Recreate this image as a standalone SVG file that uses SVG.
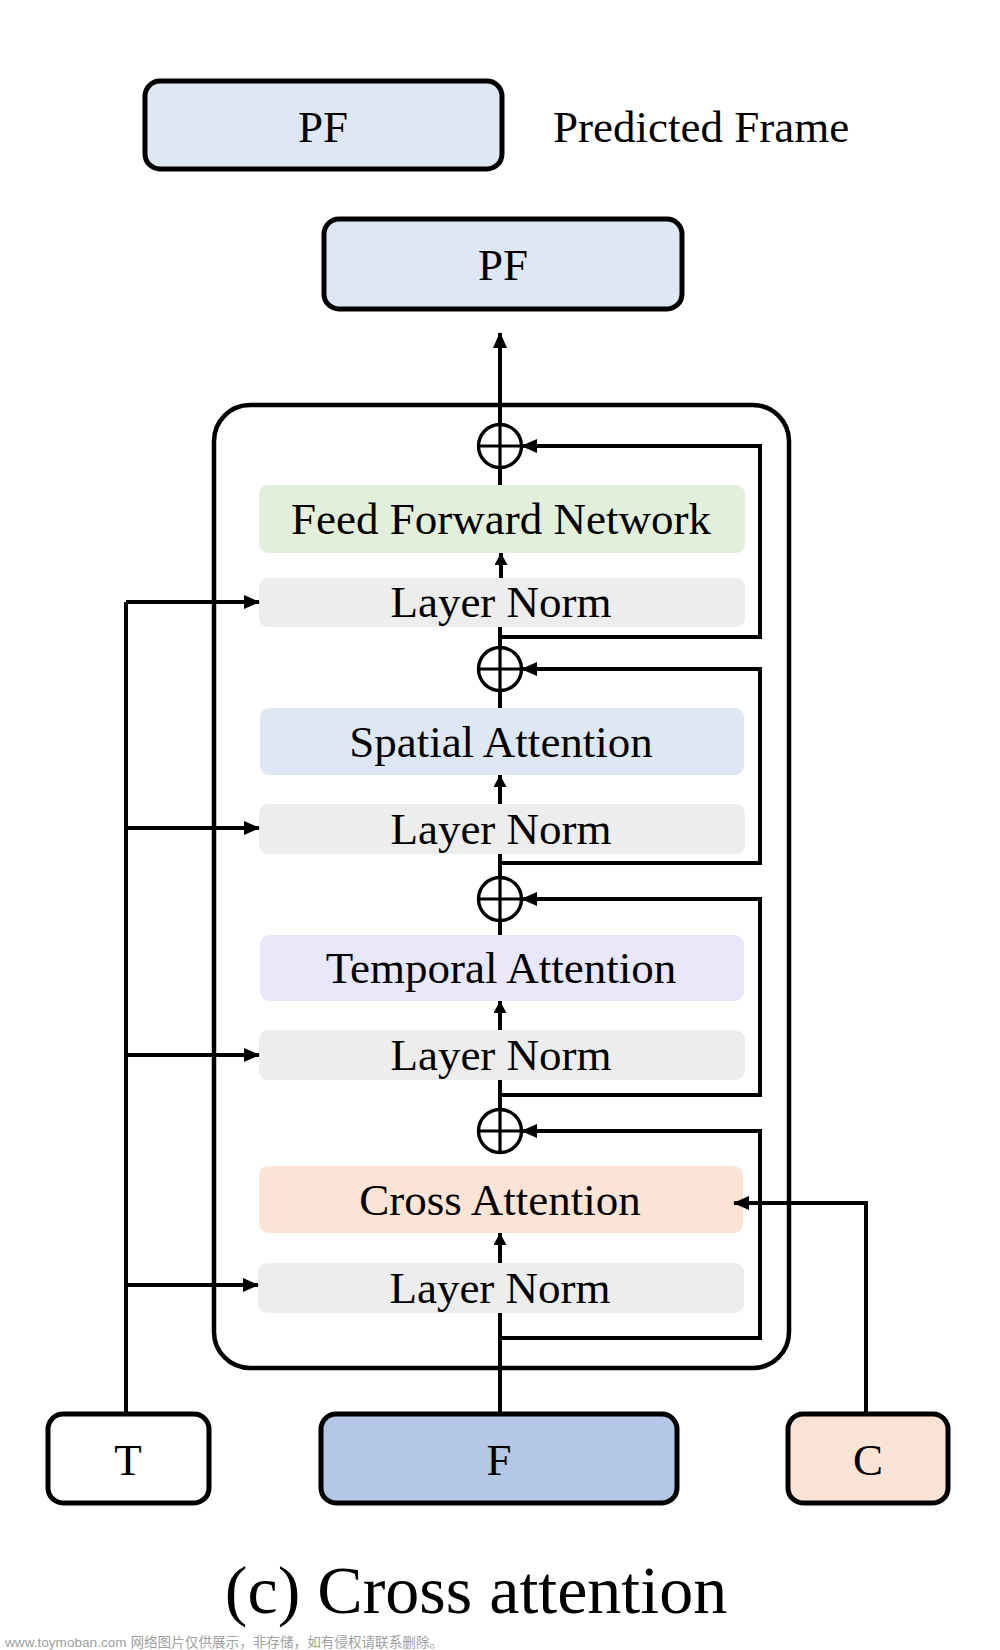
<svg xmlns="http://www.w3.org/2000/svg" width="1000" height="1650" viewBox="0 0 1000 1650">
<style>
.t{font-family:"Liberation Serif","Times New Roman",serif;font-size:45px;fill:#000;text-anchor:middle}
.box{stroke:#000;stroke-width:5}
.ln{fill:none;stroke:#000;stroke-width:4}
.plus{fill:#fff;stroke:#000;stroke-width:3.4}
</style>
<defs>
<marker id="ah" markerUnits="userSpaceOnUse" markerWidth="16" markerHeight="14" refX="15" refY="7" orient="auto">
<path d="M0,0 L16,7 L0,14 z" fill="#000"/>
</marker>
<marker id="as" markerUnits="userSpaceOnUse" markerWidth="12" markerHeight="13" refX="12" refY="6.5" orient="auto">
<path d="M0,0 L12,6.5 L0,13 z" fill="#000"/>
</marker>
</defs>
<rect width="1000" height="1650" fill="#fff"/>

<g id="legend">
<rect x="145" y="81" width="357" height="88" rx="15" fill="#dee8f4" class="box"/>
<text class="t" x="323" y="142">PF</text>
<text x="553" y="142" style="font-family:'Liberation Serif','Times New Roman',serif;font-size:45px">Predicted Frame</text>
</g>

<g id="pf">
<rect x="324" y="219" width="358" height="90" rx="15" fill="#dee8f4" class="box"/>
<text class="t" x="503" y="280">PF</text>
</g>

<g id="container">
<rect x="214" y="405" width="575" height="963" rx="36" fill="none" stroke="#000" stroke-width="4.5"/>
</g>

<g id="ffn"><rect x="259" y="485" width="486" height="68" rx="9" fill="#e2efda"/><text class="t" x="501" y="534">Feed Forward Network</text></g>
<g id="ln1"><rect x="259" y="578" width="486" height="49" rx="9" fill="#ededed"/><text class="t" x="501" y="617">Layer Norm</text></g>
<g id="spatial"><rect x="260" y="708" width="484" height="67" rx="9" fill="#dde8f4"/><text class="t" x="501" y="757">Spatial Attention</text></g>
<g id="ln2"><rect x="259" y="804" width="486" height="50" rx="9" fill="#ededed"/><text class="t" x="501" y="844">Layer Norm</text></g>
<g id="temporal"><rect x="260" y="935" width="484" height="66" rx="9" fill="#e9e7fa"/><text class="t" x="501" y="983">Temporal Attention</text></g>
<g id="ln3"><rect x="259" y="1030" width="486" height="50" rx="9" fill="#ededed"/><text class="t" x="501" y="1070">Layer Norm</text></g>
<g id="cross"><rect x="259" y="1166" width="484" height="67" rx="9" fill="#fbe4d6"/><text class="t" x="500" y="1215">Cross Attention</text></g>
<g id="ln4"><rect x="258" y="1263" width="486" height="50" rx="9" fill="#ededed"/><text class="t" x="500" y="1303">Layer Norm</text></g>

<g id="T"><rect x="48" y="1414" width="161" height="89" rx="15" fill="#fff" class="box"/><text class="t" x="128" y="1475">T</text></g>
<g id="F"><rect x="321" y="1414" width="356" height="89" rx="15" fill="#b4c7e7" class="box"/><text class="t" x="499" y="1475">F</text></g>
<g id="C"><rect x="788" y="1414" width="160" height="89" rx="15" fill="#fbe4d6" class="box"/><text class="t" x="868" y="1475">C</text></g>

<g id="connectors">
<path class="ln" d="M500,1414 V1313"/>
<path class="ln" d="M500,1263 V1233" marker-end="url(#as)"/>
<path class="ln" d="M500,1109 V1080"/>
<path class="ln" d="M500,1030 V1001" marker-end="url(#as)"/>
<path class="ln" d="M500,935 V921"/>
<path class="ln" d="M500,877 V854"/>
<path class="ln" d="M500,804 V775" marker-end="url(#as)"/>
<path class="ln" d="M500,708 V691"/>
<path class="ln" d="M500,647 V627"/>
<path class="ln" d="M501,578 V553" marker-end="url(#as)"/>
<path class="ln" d="M500,485 V468"/>
<path class="ln" d="M500,424 V333" marker-end="url(#ah)"/>
<path class="ln" d="M500,1338 H760 V1131 H522" marker-end="url(#ah)"/>
<path class="ln" d="M500,1095 H760 V899 H522" marker-end="url(#ah)"/>
<path class="ln" d="M500,863 H760 V669 H522" marker-end="url(#ah)"/>
<path class="ln" d="M500,637 H760 V446 H522" marker-end="url(#ah)"/>
<path class="ln" d="M126,1414 V602"/>
<path class="ln" d="M126,602 H259" marker-end="url(#ah)"/>
<path class="ln" d="M126,828 H259" marker-end="url(#ah)"/>
<path class="ln" d="M126,1055 H259" marker-end="url(#ah)"/>
<path class="ln" d="M126,1285 H258" marker-end="url(#ah)"/>
<path class="ln" d="M866,1414 V1203 H734" marker-end="url(#ah)"/>
<g id="adders">
<circle class="plus" cx="500" cy="446" r="21.5"/><path class="ln" style="stroke-width:3.2" d="M478.5,446 H521.5 M500,424.5 V467.5"/>
<circle class="plus" cx="500" cy="669" r="21.5"/><path class="ln" style="stroke-width:3.2" d="M478.5,669 H521.5 M500,647.5 V690.5"/>
<circle class="plus" cx="500" cy="899" r="21.5"/><path class="ln" style="stroke-width:3.2" d="M478.5,899 H521.5 M500,877.5 V920.5"/>
<circle class="plus" cx="500" cy="1131" r="21.5"/><path class="ln" style="stroke-width:3.2" d="M478.5,1131 H521.5 M500,1109.5 V1152.5"/>
</g>
</g>

<text x="476" y="1613" style="font-family:'Liberation Serif','Times New Roman',serif;font-size:68px;text-anchor:middle">(c) Cross attention</text>
<text x="5" y="1647" style="font-family:'Liberation Sans','Noto Sans CJK SC',sans-serif;font-size:13.6px;fill:#a0a0a0">www.toymoban.com 网络图片仅供展示，非存储，如有侵权请联系删除。</text>
</svg>
